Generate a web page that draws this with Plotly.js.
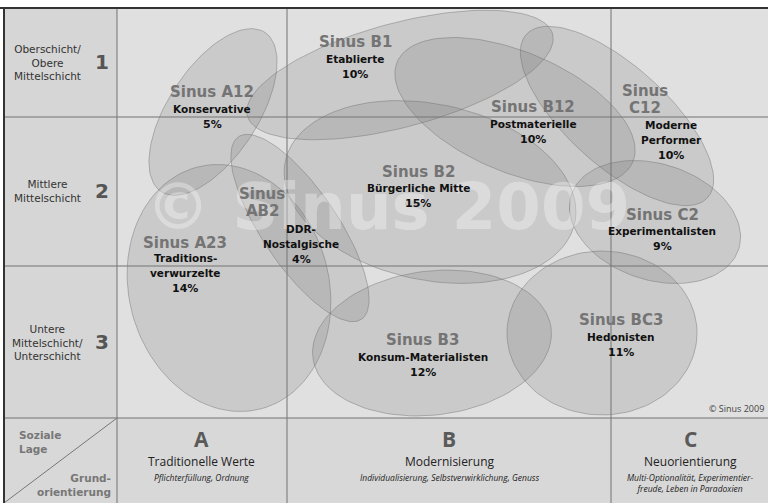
<!DOCTYPE html>
<html><head><meta charset="utf-8">
<script src="https://cdn.plot.ly/plotly-3.0.1.min.js"></script>
<style>html,body{margin:0;padding:0;background:#fff}#chart{width:768px;height:503px}</style>
</head><body><div id="chart"></div>
<script>
// ---- data ----
const milieuCodes = ['Sinus A12','Sinus B1','Sinus B12','Sinus C12','Sinus B2','Sinus AB2','Sinus A23','Sinus C2','Sinus B3','Sinus BC3'];
const milieuNames = ['Konservative','Etablierte','Postmaterielle','Moderne Performer','Bürgerliche Mitte','DDR-Nostalgische','Traditionsverwurzelte','Experimentalisten','Konsum-Materialisten','Hedonisten'];
const milieuShares = [5,10,10,10,15,4,14,9,12,11];
const socialClasses = ['Oberschicht/ Obere Mittelschicht','Mittlere Mittelschicht','Untere Mittelschicht/ Unterschicht'];
const classNumbers = ['1','2','3'];
const orientationLetters = ['A','B','C'];
const orientationTitles = ['Traditionelle Werte','Modernisierung','Neuorientierung'];
const orientationSubtitles = ['Pflichterfüllung, Ordnung','Individualisierung, Selbstverwirklichung, Genuss','Multi-Optionalität, Experimentierfreude, Leben in Paradoxien'];
const cornerLabels = ['Soziale Lage','Grundorientierung'];
const copyrightText = '© Sinus 2009';

// ---- layout / presentation (pixel space) ----
const W = 768, H = 503;
const colX = [4,117,287,611,768];
const rowY = [8,117,266,418,503];
const codeWrap = {'Sinus C12':'Sinus<br>C12','Sinus AB2':'Sinus<br>AB2'};
const nameWrap = {'Moderne Performer':'Moderne<br>Performer','DDR-Nostalgische':'DDR-<br>Nostalgische','Traditionsverwurzelte':'Traditions-<br>verwurzelte'};
const classWrap = ['Oberschicht/<br>Obere<br>Mittelschicht','Mittlere<br>Mittelschicht','Untere<br>Mittelschicht/<br>Unterschicht'];
const subWrap = ['Pflichterfüllung, Ordnung','Individualisierung, Selbstverwirklichung, Genuss','Multi-Optionalität, Experimentier-<br>freude, Leben in Paradoxien'];
// blob geometry: cx, cy, semi-axis a, semi-axis b, rotation (deg, clockwise)
const blobGeom = [
  [213,112,95,45,-57],
  [400,75,158,52,-15],
  [515,112,128,60,23],
  [617,116,122,50,42],
  [430,192,148,88,12],
  [300,228,110,38,56],
  [229,288,100,125,-15],
  [655,222,88,58,18],
  [432,343,120,72,-7],
  [602,333,95,82,0]
];
const codePos = [[212,92],[355,42],[533,107],[645,91],[418,172],[262,194],[185,243],[662,215],[422,340],[621,320]];
const textPos = [[212,109],[355,59],[533,124],[671,125],[418,188],[301,229],[185,258],[662,231],[423,357],[621,337]];

const font = 'DejaVu Sans, Verdana, sans-serif';
const traces = [];
blobGeom.forEach(([cx,cy,a,b,ang]) => {
  const th = ang*Math.PI/180, xs=[], ys=[];
  for (let i=0;i<=120;i++){
    const t = i/120*2*Math.PI;
    xs.push(cx + a*Math.cos(th)*Math.cos(t) - b*Math.sin(th)*Math.sin(t));
    ys.push(cy + a*Math.sin(th)*Math.cos(t) + b*Math.cos(th)*Math.sin(t));
  }
  traces.push({x:xs,y:ys,mode:'lines',fill:'toself',fillcolor:'rgba(105,105,105,0.18)',
    line:{color:'rgba(105,105,105,0.42)',width:1},hoverinfo:'skip',showlegend:false});
});

const shapes = [
  {type:'rect',x0:colX[1],x1:W,y0:rowY[0],y1:rowY[3],fillcolor:'#e0e0e0',line:{width:0},layer:'below'},
  {type:'rect',x0:colX[0],x1:colX[1],y0:rowY[0],y1:rowY[3],fillcolor:'#d6d6d6',line:{width:0},layer:'below'},
  {type:'rect',x0:colX[0],x1:W,y0:rowY[3],y1:H,fillcolor:'#d8d8d8',line:{width:0},layer:'below'}
];
[colX[1],colX[2],colX[3]].forEach(x => shapes.push({type:'line',x0:x,x1:x,y0:rowY[0],y1:H,line:{color:'rgba(120,120,120,0.7)',width:1.5},layer:'above'}));
[rowY[1],rowY[2],rowY[3]].forEach(y => shapes.push({type:'line',x0:colX[0],x1:W,y0:y,y1:y,line:{color:'rgba(120,120,120,0.7)',width:1.5},layer:'above'}));
shapes.push({type:'line',x0:colX[0],x1:colX[1],y0:H,y1:rowY[3],line:{color:'#777',width:1},layer:'above'});
shapes.push({type:'line',x0:0,x1:W,y0:rowY[0],y1:rowY[0],line:{color:'#333',width:2},layer:'above'});
shapes.push({type:'line',x0:colX[0],x1:colX[0],y0:rowY[0],y1:H,line:{color:'#333',width:2},layer:'above'});

const ann = [];
// watermark
ann.push({x:388,y:207,xref:'x',yref:'y',text:'<b>'+copyrightText+'</b>',showarrow:false,
  font:{family:font,size:64,color:'rgba(255,255,255,0.33)'}});
// milieu labels
milieuCodes.forEach((c,i) => {
  const codeLines = (codeWrap[c]||c).split('<br>');
  codeLines.forEach((l,k) => ann.push({x:codePos[i][0],y:codePos[i][1]+k*16.5,xref:'x',yref:'y',text:'<b>'+l+'</b>',showarrow:false,
    font:{family:font,size:15,color:'#747474'}}));
  const nLines = (nameWrap[milieuNames[i]]||milieuNames[i]).split('<br>');
  nLines.push(milieuShares[i]+'%');
  nLines.forEach((l,k) => ann.push({x:textPos[i][0],y:textPos[i][1]+k*15.3,xref:'x',yref:'y',text:'<b>'+l+'</b>',showarrow:false,
    font:{family:font,size:k===nLines.length-1?11:10.5,color:'#111'}}));
});
// social class labels
const rowMid = [62,191,342];
socialClasses.forEach((s,i) => {
  ann.push({x:47,y:rowMid[i],xref:'x',yref:'y',text:classWrap[i],showarrow:false,align:'center',
    font:{family:font,size:10.5,color:'#333'}});
  ann.push({x:102,y:rowMid[i],xref:'x',yref:'y',text:'<b>'+classNumbers[i]+'</b>',showarrow:false,
    font:{family:font,size:20,color:'#555'}});
});
ann.push({x:17,y:442,xref:'x',yref:'y',text:'<b>Soziale<br>Lage</b>',showarrow:false,align:'left',xanchor:'left',
  font:{family:font,size:10.5,color:'#777'}});
ann.push({x:113,y:485,xref:'x',yref:'y',text:'<b>Grund-<br>orientierung</b>',showarrow:false,align:'right',xanchor:'right',
  font:{family:font,size:10.5,color:'#777'}});
// orientation labels
const colMid = [201,449,690];
orientationLetters.forEach((L,i) => {
  ann.push({x:colMid[i],y:439,xref:'x',yref:'y',text:'<b>'+L+'</b>',showarrow:false,font:{family:'Open Sans, sans-serif',size:21,color:'#5a5a5a'}});
  ann.push({x:colMid[i],y:461,xref:'x',yref:'y',text:orientationTitles[i],showarrow:false,font:{family:'Open Sans, sans-serif',size:12,color:'#222'}});
  ann.push({x:colMid[i],y:470,xref:'x',yref:'y',yanchor:'top',text:'<i>'+subWrap[i]+'</i>',showarrow:false,font:{family:'Open Sans, sans-serif',size:8.5,color:'#222'}});
});
ann.push({x:766,y:408,xref:'x',yref:'y',xanchor:'right',text:copyrightText,showarrow:false,font:{family:'Open Sans, sans-serif',size:9,color:'#444'}});

Plotly.newPlot('chart', traces, {
  width:W,height:H,margin:{l:0,r:0,t:0,b:0},
  paper_bgcolor:'#fff',plot_bgcolor:'#fff',showlegend:false,
  xaxis:{range:[0,W],visible:false,fixedrange:true},
  yaxis:{range:[H,0],visible:false,fixedrange:true},
  shapes:shapes,annotations:ann
},{displayModeBar:false,staticPlot:true});
</script></body></html>
